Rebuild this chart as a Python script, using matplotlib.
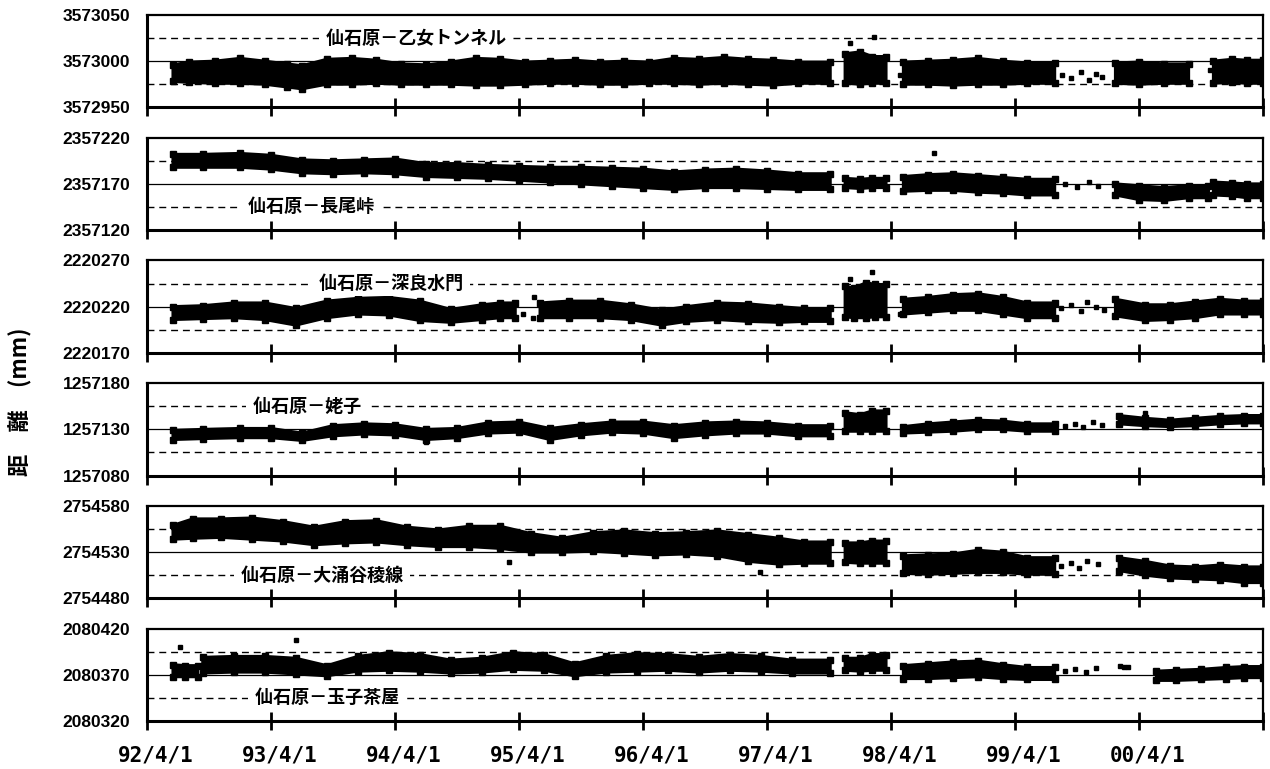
import numpy as np
import matplotlib
matplotlib.use("Agg")
import matplotlib.pyplot as plt
import matplotlib.transforms as mtransforms

nan = np.nan

# x axis: decimal years, 92/4/1 .. 01/4/1
X_START = 1992.25
X_END = 2001.25
TICK_YEARS = [1992.25, 1993.25, 1994.25, 1995.25, 1996.25, 1997.25, 1998.25, 1999.25, 2000.25, 2001.25]
TICK_LABELS = ['92/4/1', '93/4/1', '94/4/1', '95/4/1', '96/4/1', '97/4/1', '98/4/1', '99/4/1', '00/4/1', '']

TITLES = ['仙石原－乙女トンネル', '仙石原－長尾峠', '仙石原－深良水門',
          '仙石原－姥子', '仙石原－大涌谷稜線', '仙石原－玉子茶屋']
Y_MIN = [3572950, 2357120, 2220170, 1257080, 2754480, 2080320]

# band of measurements: sample date, upper and lower edge (nan = break in data)
P1_T = [1992.46, 1992.59, 1992.8, 1993.0, 1993.2, 1993.38, 1993.5, 1993.7, 1993.9, 1994.1, 1994.3, 1994.5, 1994.7, 1994.9,
        1995.1, 1995.3, 1995.5, 1995.7, 1995.9, 1996.1, 1996.3, 1996.5, 1996.7, 1996.9, 1997.1, 1997.3, 1997.5, 1997.76, nan,
        1997.88, 1998.0, 1998.1, 1998.21, nan,
        1998.35, 1998.55, 1998.75, 1998.95, 1999.15, 1999.35, 1999.57, nan,
        2000.06, 2000.25, 2000.45, 2000.65, nan,
        2000.85, 2001.0, 2001.12, 2001.25]
P1_HI = [3572996, 3572999, 3573000, 3573003, 3573000, 3572997, 3572995, 3573002, 3573003, 3573001, 3572997, 3572996, 3572999, 3573003,
         3573002, 3572999, 3573000, 3573001, 3572999, 3573000, 3572999, 3573003, 3573002, 3573004, 3573002, 3573001, 3572999, 3572999, nan,
         3573008, 3573010, 3573005, 3573005, nan,
         3572999, 3573000, 3573001, 3573003, 3573000, 3572998, 3572998, nan,
         3572998, 3572999, 3572997, 3572997, nan,
         3573000, 3573002, 3573001, 3573001]
P1_LO = [3572978, 3572977, 3572976, 3572976, 3572975, 3572972, 3572970, 3572975, 3572975, 3572976, 3572975, 3572975, 3572975, 3572974,
         3572974, 3572975, 3572976, 3572976, 3572975, 3572975, 3572976, 3572976, 3572975, 3572976, 3572975, 3572974, 3572976, 3572976, nan,
         3572976, 3572975, 3572976, 3572976, nan,
         3572975, 3572975, 3572974, 3572975, 3572975, 3572976, 3572976, nan,
         3572976, 3572975, 3572976, 3572976, nan,
         3572976, 3572977, 3572976, 3572976]
P1_DOT_T = [1997.92, 1998.11, 1998.32, 1999.63, 1999.70, 1999.78, 1999.85, 1999.90, 1999.95, 2000.82]
P1_DOT_V = [3573020, 3573026, 3572985, 3572985, 3572982, 3572988, 3572980, 3572986, 3572983, 3572990]

P2_T = [1992.46, 1992.7, 1993.0, 1993.25, 1993.5, 1993.75, 1994.0, 1994.25, 1994.5, 1994.75, 1995.0, 1995.25, 1995.5, 1995.75,
        1996.0, 1996.25, 1996.5, 1996.75, 1997.0, 1997.25, 1997.5, 1997.76, nan,
        1997.88, 1998.0, 1998.1, 1998.21, nan,
        1998.35, 1998.55, 1998.75, 1998.95, 1999.15, 1999.35, 1999.57, nan,
        2000.06, 2000.25, 2000.45, 2000.65, 2000.81, nan,
        2000.85, 2001.0, 2001.12, 2001.25]
P2_HI = [2357202, 2357202, 2357203, 2357201, 2357196, 2357195, 2357196, 2357197, 2357192, 2357192, 2357190, 2357189, 2357188, 2357188,
         2357187, 2357186, 2357183, 2357185, 2357186, 2357184, 2357181, 2357181, nan,
         2357176, 2357175, 2357176, 2357176, nan,
         2357178, 2357180, 2357181, 2357179, 2357177, 2357175, 2357175, nan,
         2357170, 2357168, 2357166, 2357168, 2357168, nan,
         2357172, 2357171, 2357170, 2357170]
P2_LO = [2357188, 2357188, 2357188, 2357186, 2357182, 2357181, 2357182, 2357181, 2357178, 2357177, 2357176, 2357174, 2357172, 2357170,
         2357168, 2357166, 2357164, 2357166, 2357166, 2357165, 2357164, 2357164, nan,
         2357166, 2357165, 2357166, 2357166, nan,
         2357162, 2357163, 2357163, 2357161, 2357160, 2357158, 2357158, nan,
         2357158, 2357153, 2357152, 2357155, 2357155, nan,
         2357158, 2357157, 2357155, 2357155]
P2_DOT_T = [1998.60, 1999.65, 1999.75, 1999.85, 1999.92]
P2_DOT_V = [2357204, 2357170, 2357167, 2357172, 2357168]

P3_T = [1992.46, 1992.7, 1992.95, 1993.2, 1993.45, 1993.7, 1993.95, 1994.2, 1994.45, 1994.7, 1994.95, 1995.1, 1995.22, nan,
        1995.42, 1995.65, 1995.9, 1996.15, 1996.4, 1996.6, 1996.85, 1997.1, 1997.35, 1997.55, 1997.76, nan,
        1997.88, 1997.95, 1998.05, 1998.12, 1998.21, nan,
        1998.35, 1998.55, 1998.75, 1998.95, 1999.15, 1999.35, 1999.57, nan,
        2000.06, 2000.3, 2000.5, 2000.7, 2000.9, 2001.1, 2001.25]
P3_HI = [2220220, 2220221, 2220224, 2220224, 2220218, 2220226, 2220229, 2220230, 2220226, 2220217, 2220222, 2220224, 2220224, nan,
         2220224, 2220226, 2220226, 2220222, 2220216, 2220220, 2220224, 2220223, 2220220, 2220218, 2220218, nan,
         2220242, 2220240, 2220246, 2220244, 2220244, nan,
         2220228, 2220230, 2220233, 2220234, 2220230, 2220224, 2220224, nan,
         2220228, 2220222, 2220222, 2220225, 2220228, 2220226, 2220226]
P3_LO = [2220206, 2220207, 2220208, 2220206, 2220200, 2220208, 2220212, 2220211, 2220205, 2220203, 2220206, 2220208, 2220208, nan,
         2220208, 2220208, 2220208, 2220206, 2220200, 2220204, 2220206, 2220204, 2220203, 2220204, 2220204, nan,
         2220209, 2220208, 2220208, 2220209, 2220209, nan,
         2220212, 2220214, 2220216, 2220216, 2220212, 2220208, 2220208, nan,
         2220210, 2220205, 2220206, 2220208, 2220212, 2220212, 2220212]
P3_DOT_T = [1995.28, 1995.36, 1995.37, 1997.92, 1998.10, 1998.32, 1999.62, 1999.70, 1999.78, 1999.83, 1999.90, 1999.97]
P3_DOT_V = [2220212, 2220208, 2220230, 2220250, 2220258, 2220212, 2220218, 2220222, 2220215, 2220225, 2220220, 2220216]

P4_T = [1992.46, 1992.7, 1993.0, 1993.25, 1993.5, 1993.75, 1994.0, 1994.25, 1994.5, 1994.75, 1995.0, 1995.25, 1995.5, 1995.75,
        1996.0, 1996.25, 1996.5, 1996.75, 1997.0, 1997.25, 1997.5, 1997.76, nan,
        1997.88, 1998.0, 1998.1, 1998.21, nan,
        1998.35, 1998.55, 1998.75, 1998.95, 1999.15, 1999.35, 1999.57, nan,
        2000.09, 2000.3, 2000.5, 2000.7, 2000.9, 2001.1, 2001.25]
P4_HI = [1257129, 1257130, 1257131, 1257131, 1257126, 1257134, 1257136, 1257135, 1257130, 1257131, 1257137, 1257138, 1257131, 1257135,
         1257138, 1257138, 1257134, 1257137, 1257138, 1257137, 1257134, 1257134, nan,
         1257148, 1257146, 1257150, 1257150, nan,
         1257133, 1257136, 1257138, 1257140, 1257139, 1257136, 1257136, nan,
         1257145, 1257142, 1257140, 1257142, 1257144, 1257145, 1257145]
P4_LO = [1257119, 1257120, 1257121, 1257121, 1257118, 1257123, 1257125, 1257124, 1257119, 1257121, 1257126, 1257127, 1257119, 1257124,
         1257127, 1257126, 1257121, 1257124, 1257126, 1257126, 1257123, 1257123, nan,
         1257128, 1257128, 1257128, 1257128, nan,
         1257126, 1257127, 1257128, 1257130, 1257130, 1257128, 1257128, nan,
         1257136, 1257134, 1257133, 1257134, 1257136, 1257137, 1257137]
P4_DOT_T = [1994.5, 1999.65, 1999.73, 1999.80, 1999.88, 1999.95, 2000.30]
P4_DOT_V = [1257116, 1257134, 1257136, 1257133, 1257138, 1257135, 1257148]

P5_T = [1992.46, 1992.62, 1992.85, 1993.1, 1993.35, 1993.6, 1993.85, 1994.1, 1994.35, 1994.6, 1994.85, 1995.1, 1995.35, 1995.6,
        1995.85, 1996.1, 1996.35, 1996.6, 1996.85, 1997.1, 1997.35, 1997.55, 1997.76, nan,
        1997.88, 1998.0, 1998.1, 1998.21, nan,
        1998.35, 1998.55, 1998.75, 1998.95, 1999.15, 1999.35, 1999.57, nan,
        2000.09, 2000.3, 2000.5, 2000.7, 2000.9, 2001.1, 2001.25]
P5_HI = [2754559, 2754566, 2754566, 2754567, 2754563, 2754557, 2754563, 2754564, 2754557, 2754554, 2754558, 2754558, 2754550, 2754545,
         2754551, 2754553, 2754550, 2754551, 2754553, 2754549, 2754545, 2754541, 2754541, nan,
         2754540, 2754540, 2754542, 2754542, nan,
         2754526, 2754527, 2754528, 2754532, 2754530, 2754524, 2754524, nan,
         2754524, 2754520, 2754515, 2754514, 2754516, 2754514, 2754514]
P5_LO = [2754544, 2754545, 2754546, 2754544, 2754542, 2754538, 2754540, 2754541, 2754538, 2754536, 2754536, 2754534, 2754530, 2754530,
         2754531, 2754529, 2754527, 2754528, 2754526, 2754520, 2754517, 2754518, 2754518, nan,
         2754519, 2754518, 2754518, 2754518, nan,
         2754507, 2754506, 2754507, 2754508, 2754508, 2754506, 2754506, nan,
         2754510, 2754505, 2754502, 2754501, 2754500, 2754497, 2754497]
P5_DOT_T = [1995.17, 1997.19, 1999.62, 1999.70, 1999.77, 1999.83, 1999.92]
P5_DOT_V = [2754519, 2754508, 2754515, 2754518, 2754513, 2754520, 2754517]

P6_T = [1992.46, 1992.56, 1992.66, nan,
        1992.70, 1992.95, 1993.2, 1993.45, 1993.7, 1993.95, 1994.2, 1994.45, 1994.7, 1994.95, 1995.2, 1995.45, 1995.7, 1995.95,
        1996.2, 1996.45, 1996.7, 1996.95, 1997.2, 1997.45, 1997.76, nan,
        1997.88, 1998.0, 1998.1, 1998.21, nan,
        1998.35, 1998.55, 1998.75, 1998.95, 1999.15, 1999.35, 1999.57, nan,
        2000.39, 2000.55, 2000.75, 2000.95, 2001.1, 2001.25]
P6_HI = [2080381, 2080380, 2080380, nan,
         2080389, 2080390, 2080390, 2080388, 2080380, 2080390, 2080394, 2080392, 2080386, 2080388, 2080394, 2080392, 2080382, 2080390,
         2080393, 2080392, 2080389, 2080392, 2080390, 2080386, 2080386, nan,
         2080388, 2080388, 2080392, 2080392, nan,
         2080380, 2080382, 2080384, 2080385, 2080381, 2080378, 2080378, nan,
         2080374, 2080375, 2080376, 2080378, 2080379, 2080379]
P6_LO = [2080368, 2080368, 2080368, nan,
         2080372, 2080373, 2080373, 2080371, 2080369, 2080374, 2080375, 2080374, 2080372, 2080373, 2080376, 2080375, 2080369, 2080373,
         2080374, 2080375, 2080373, 2080375, 2080374, 2080372, 2080372, nan,
         2080375, 2080374, 2080375, 2080375, nan,
         2080366, 2080366, 2080367, 2080368, 2080366, 2080365, 2080365, nan,
         2080364, 2080364, 2080365, 2080366, 2080367, 2080367]
P6_DOT_T = [1992.52, 1993.45, 1999.65, 1999.73, 1999.82, 1999.90, 2000.10, 2000.13, 2000.16]
P6_DOT_V = [2080400, 2080408, 2080374, 2080376, 2080373, 2080377, 2080380, 2080379, 2080378]

BANDS = [(P1_T, P1_HI, P1_LO, P1_DOT_T, P1_DOT_V),
         (P2_T, P2_HI, P2_LO, P2_DOT_T, P2_DOT_V),
         (P3_T, P3_HI, P3_LO, P3_DOT_T, P3_DOT_V),
         (P4_T, P4_HI, P4_LO, P4_DOT_T, P4_DOT_V),
         (P5_T, P5_HI, P5_LO, P5_DOT_T, P5_DOT_V),
         (P6_T, P6_HI, P6_LO, P6_DOT_T, P6_DOT_V)]

# title placement: x in years, which dashed line it sits on
TITLE_POS = [(1994.42, 75), (1993.57, 25), (1994.22, 75), (1993.54, 75), (1993.66, 25), (1993.70, 25)]

plt.rcParams['font.family'] = ['Liberation Sans', 'DejaVu Sans']
plt.rcParams['font.weight'] = 'bold'
CJK = ['Noto Sans CJK JP', 'DejaVu Sans']
DASH = (0, (5, 3.5))


def draw_panel(ax, ymin, band, title, title_pos):
    t, hi, lo, dot_t, dot_v = band
    ax.set_xlim(X_START, X_END)
    ax.set_ylim(ymin, ymin + 100)
    ax.axhline(ymin + 50, color='black', lw=0.9, zorder=1)
    for off in (25, 75):
        ax.axhline(ymin + off, color='black', lw=1.0, linestyle=DASH, zorder=1)
    ax.fill_between(t, lo, hi, facecolor='black', edgecolor='black', lw=2.2, zorder=3)
    # square points along the edges give the rough look of the daily readings
    ax.plot(t, hi, 's', color='black', ms=4.5, zorder=3)
    ax.plot(t, lo, 's', color='black', ms=4.5, zorder=3)
    ax.plot(dot_t, dot_v, 's', color='black', ms=3.5, zorder=3)
    tx, off = title_pos
    ax.text(tx, ymin + off, ' ' + title + ' ', ha='center', va='center', fontsize=13,
            fontweight='bold', family=CJK, zorder=4,
            bbox=dict(facecolor='white', edgecolor='none', pad=2))
    ax.set_yticks([ymin, ymin + 50, ymin + 100])
    ax.set_yticklabels([str(ymin), str(ymin + 50), str(ymin + 100)])
    ax.tick_params(axis='y', length=0, pad=12, labelsize=12.5)
    ax.set_xticks(TICK_YEARS)
    ax.tick_params(axis='x', direction='inout', length=13, width=2, labelbottom=False)
    ax.spines['left'].set_linewidth(2.2)
    ax.spines['bottom'].set_linewidth(2.2)
    ax.spines['top'].set_linewidth(1.6)
    ax.spines['right'].set_linewidth(1.6)


fig, axes = plt.subplots(6, 1, figsize=(12.7, 7.69), dpi=100)
fig.subplots_adjust(left=0.1157, right=0.9945, top=0.9805, bottom=0.0624, hspace=0.33)

for ax, ymin, band, title, pos in zip(axes, Y_MIN, BANDS, TITLES, TITLE_POS):
    draw_panel(ax, ymin, band, title, pos)

# date labels only under the last panel, nudged right like the original
last = axes[-1]
last.set_xticklabels(TICK_LABELS)
last.tick_params(axis='x', labelbottom=True, pad=11)
shift = mtransforms.ScaledTranslation(9 / 100, 0, fig.dpi_scale_trans)
for label in last.get_xticklabels():
    label.set_family(['DejaVu Sans Mono'])
    label.set_fontsize(15)
    label.set_fontweight('bold')
    label.set_transform(label.get_transform() + shift)

fig.text(0.016, 0.478, '距　離　(mm)', rotation=90, ha='center', va='center',
         fontsize=16, fontweight='bold', family=CJK)

fig.savefig('out.png', dpi=100)
